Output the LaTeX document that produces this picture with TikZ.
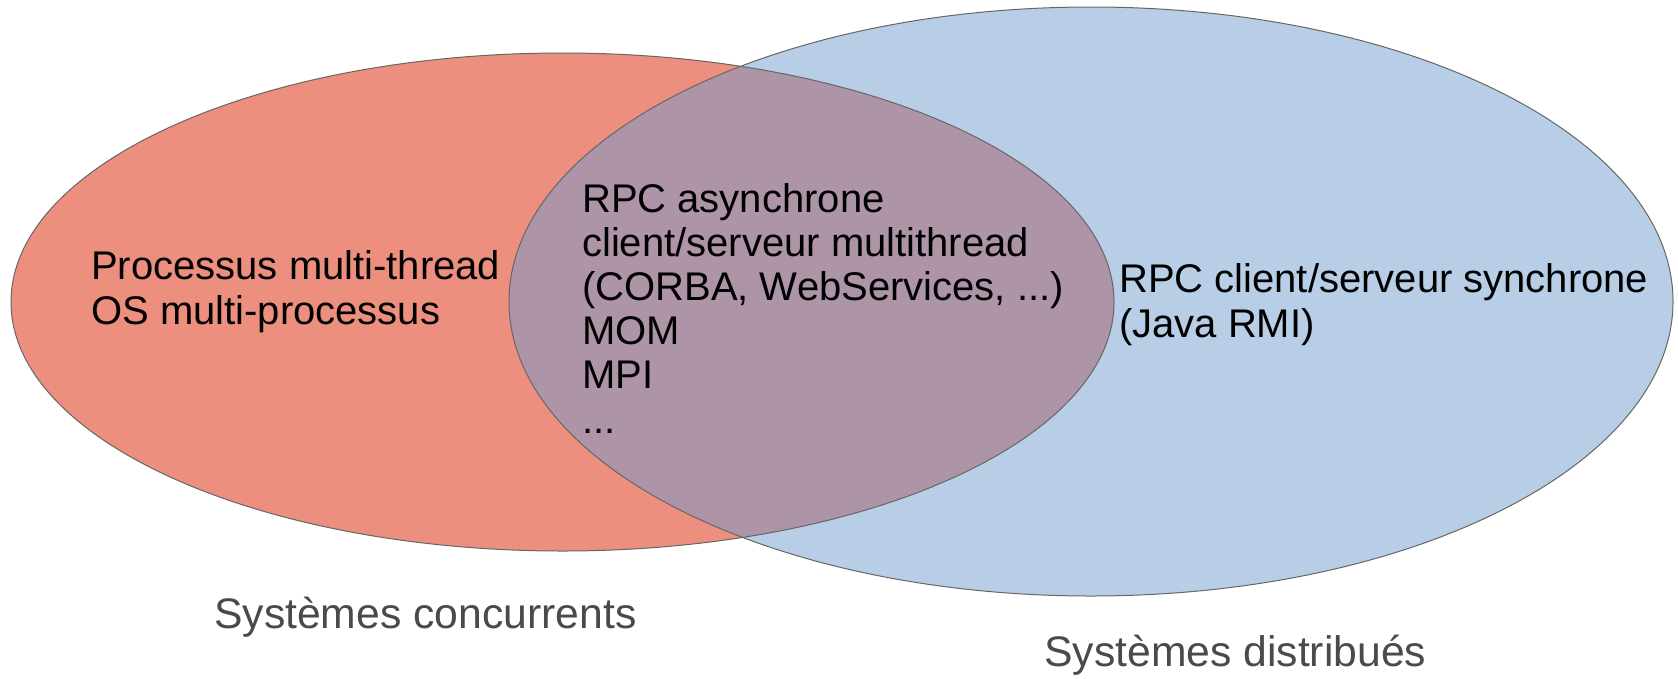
\documentclass[tikz,border=0pt]{standalone}
\usepackage{fontspec}
\setmainfont{Liberation Sans}
\definecolor{concfill}{HTML}{EC8F7E}
\definecolor{distfill}{HTML}{B7CEE6}
\definecolor{bothfill}{HTML}{AD95A7}
\definecolor{rimcol}{HTML}{666666}
\definecolor{captioncol}{HTML}{4A4A4A}
\begin{document}
\begin{tikzpicture}[x=1pt,y=-1pt,
  rim/.style={draw=rimcol,line width=1pt},
  % multi-line nodes are placed by the baseline of their last line
  inset/.style={font=\fontsize{40}{44.2}\selectfont,text=black,inner sep=0pt,align=left,anchor=base west},
  caption/.style={font=\fontsize{42.7}{48}\selectfont,text=captioncol,inner sep=0pt,anchor=base west}]
\useasboundingbox (0,0) rectangle (1678,678);
% the two sets
\fill[concfill] (562.5,302) ellipse [x radius=551.5, y radius=249];
\fill[distfill] (1091,301.5) ellipse [x radius=582, y radius=294.5];
% their intersection
\begin{scope}
  \clip (562.5,302) ellipse [x radius=551.5, y radius=249];
  \fill[bothfill] (1091,301.5) ellipse [x radius=582, y radius=294.5];
\end{scope}
\draw[rim] (562.5,302) ellipse [x radius=551.5, y radius=249];
\draw[rim] (1091,301.5) ellipse [x radius=582, y radius=294.5];
% contents
\node[inset] (conc) at (91,324) {Processus multi-thread\\OS multi-processus};
\node[inset] (both) at (582,433) {RPC asynchrone\\client/serveur multithread\\(CORBA, WebServices, ...)\\MOM\\MPI\\...};
\node[inset] (dist) at (1119,337) {RPC client/serveur synchrone\\(Java RMI)};
% set names
\node[caption] (concname) at (214,628) {Systèmes concurrents};
\node[caption] (distname) at (1044,666) {Systèmes distribués};
\end{tikzpicture}
\end{document}
